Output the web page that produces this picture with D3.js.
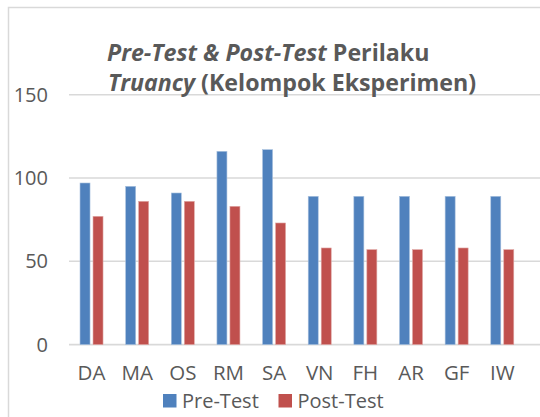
<!DOCTYPE html>
<html>
<head>
<meta charset="utf-8">
<script src="https://cdn.jsdelivr.net/npm/d3@7"></script>
<style>
  html, body { margin: 0; padding: 0; background: #fff; }
  svg { display: block; font-family: "Open Sans", sans-serif; }
</style>
</head>
<body>
<svg id="chart"></svg>
<script>
const categories = ['DA', 'MA', 'OS', 'RM', 'SA', 'VN', 'FH', 'AR', 'GF', 'IW'];
const preTest = [97, 95, 91, 116, 117, 89, 89, 89, 89, 89];
const postTest = [77, 86, 86, 83, 73, 58, 57, 57, 58, 57];
const seriesNames = ['Pre-Test', 'Post-Test'];
const yTicks = [0, 50, 100, 150];

let width = 540,
    height = 417;

let color = d3.scaleOrdinal()
    .domain(seriesNames)
    .range(['#4f81bd', '#c0504d']);

let rows = categories.map((c, i) => ({cat: c, values: [
    {key: 'Pre-Test', value: preTest[i]},
    {key: 'Post-Test', value: postTest[i]}
]}));

let x0 = d3.scaleBand()
    .domain(categories)
    .range([68.7, 525.1])
    .paddingInner(0.496)
    .paddingOuter(0.248);

let x1 = d3.scaleBand()
    .domain(seriesNames)
    .range([0, x0.bandwidth()])
    .paddingInner(3 / 13);

let y = d3.scaleLinear()
    .domain([0, 150])
    .range([344.6, 94.7]);

let svg = d3.select('#chart')
    .attr('width', width)
    .attr('height', height);

// chart area border (cropped on right / bottom)
svg.append('rect')
    .attr('x', 8.5)
    .attr('y', 7.5)
    .attr('width', 600)
    .attr('height', 600)
    .attr('fill', 'none')
    .attr('stroke', '#d9d9d9')
    .attr('stroke-width', 1.5);

// gridlines
svg.append('g')
    .selectAll('line')
    .data(yTicks)
    .enter().append('line')
    .attr('x1', 69)
    .attr('x2', 545)
    .attr('y1', d => y(d))
    .attr('y2', d => y(d))
    .attr('stroke', '#d9d9d9')
    .attr('stroke-width', 1.6);

// y axis labels
let yAxis = svg.append('g')
    .attr('transform', 'translate(57,0)')
    .call(d3.axisLeft(y).tickValues(yTicks).tickSize(0).tickPadding(9));
yAxis.select('.domain').remove();
yAxis.selectAll('text')
    .attr('fill', '#595959')
    .style('font-size', '20px')
    .style('font-family', '"Open Sans", sans-serif');

// bars
let groups = svg.append('g')
    .selectAll('g')
    .data(rows)
    .enter().append('g')
    .attr('transform', d => `translate(${x0(d.cat)},0)`);

groups.selectAll('rect')
    .data(d => d.values)
    .enter().append('rect')
    .attr('x', d => x1(d.key))
    .attr('width', x1.bandwidth())
    .attr('y', d => y(d.value))
    .attr('height', d => y(0) - y(d.value))
    .attr('fill', d => color(d.key))
    .attr('stroke', d => d.key === 'Pre-Test' ? '#a7c0de' : '#dfa8a6')
    .attr('stroke-width', 0.6);

// x axis labels
let xAxis = svg.append('g')
    .attr('transform', `translate(0,${y(0)})`)
    .call(d3.axisBottom(x0).tickSize(0).tickPadding(21));
xAxis.select('.domain').remove();
xAxis.selectAll('text')
    .attr('fill', '#595959')
    .style('font-size', '20.5px')
    .style('font-family', '"Open Sans", sans-serif');

// title
let title = svg.append('text')
    .attr('x', 107)
    .attr('fill', '#595959')
    .style('font-size', '23.2px')
    .style('font-weight', 'bold');
title.append('tspan').attr('x', 107).attr('y', 61)
    .style('font-style', 'italic').text('Pre-Test & Post-Test');
title.append('tspan').text(' Perilaku');
title.append('tspan').attr('x', 108).attr('y', 91)
    .style('font-style', 'italic').text('Truancy');
title.append('tspan').text(' (Kelompok Eksperimen)');

// legend
let legend = svg.append('g')
    .selectAll('g')
    .data(seriesNames)
    .enter().append('g')
    .attr('transform', (d, i) => `translate(${i === 0 ? 163 : 278.5},0)`);

legend.append('rect')
    .attr('y', 394)
    .attr('width', 13.5)
    .attr('height', 13.5)
    .attr('fill', d => color(d));

legend.append('text')
    .attr('x', 19)
    .attr('y', 408)
    .attr('fill', '#595959')
    .style('font-size', '20px')
    .text(d => d);
</script>
</body>
</html>
